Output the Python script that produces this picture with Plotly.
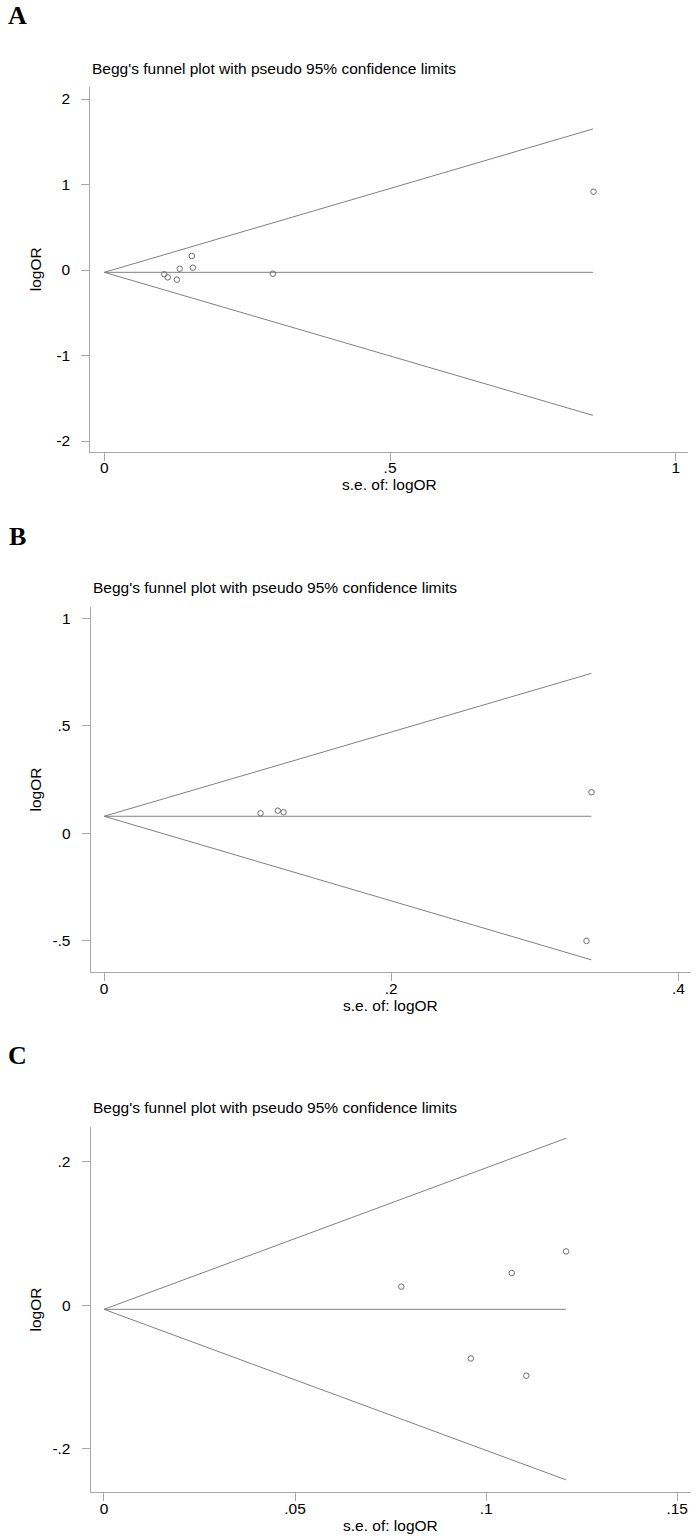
import plotly.graph_objects as go

W, H = 698, 1539

# panel A - study points (s.e. of logOR, logOR)
se_a = [0.105, 0.111, 0.127, 0.132, 0.153, 0.155, 0.295, 0.856]
lor_a = [-0.050, -0.086, -0.113, 0.015, 0.164, 0.027, -0.043, 0.916]
# funnel: pooled estimate, max s.e., upper / lower limits at max s.e.
funnel_a = [-0.027, 0.855, 1.65, -1.70]

# panel B
se_b = [0.109, 0.121, 0.125, 0.3395, 0.336]
lor_b = [0.093, 0.105, 0.098, 0.191, -0.501]
funnel_b = [0.079, 0.3394, 0.744, -0.589]

# panel C
se_c = [0.0778, 0.0960, 0.1067, 0.1105, 0.1209]
lor_c = [0.026, -0.074, 0.045, -0.098, 0.075]
funnel_c = [-0.0056, 0.1209, 0.2325, -0.243]

xtick_a = [0, 0.5, 1]
xtext_a = ["0", ".5", "1"]
ytick_a = [-2, -1, 0, 1, 2]
ytext_a = ["-2", "-1", "0", "1", "2"]
xtick_b = [0, 0.2, 0.4]
xtext_b = ["0", ".2", ".4"]
ytick_b = [-0.5, 0, 0.5, 1]
ytext_b = ["-.5", "0", ".5", "1"]
xtick_c = [0, 0.05, 0.1, 0.15]
xtext_c = ["0", ".05", ".1", ".15"]
ytick_c = [-0.2, 0, 0.2]
ytext_c = ["-.2", "0", ".2"]

panel_letters = ["A", "B", "C"]
title_text = "Begg's funnel plot with pseudo 95% confidence limits"
xlabel = "s.e. of: logOR"
ylabel = "logOR"

FONT = "Liberation Sans, Arial, sans-serif"
AXCOL = "#a8a8a8"
LINECOL = "#808080"


def px_x(p):
    return p / W


def px_y(p):
    return 1 - p / H


# plot boxes in pixels: left, right, top, bottom ; axis ranges
panels = [
    dict(box=(90.3, 688, 86.7, 451.7), xr=[-0.0245, 1.0213], yr=[-2.125, 2.144],
         se=se_a, lor=lor_a, fun=funnel_a, xt=(xtick_a, xtext_a), yt=(ytick_a, ytext_a),
         letter_y=15.5, title_y=69),
    dict(box=(90.6, 690.6, 606.7, 972.3), xr=[-0.0094, 0.4085], yr=[-0.647, 1.054],
         se=se_b, lor=lor_b, fun=funnel_b, xt=(xtick_b, xtext_b), yt=(ytick_b, ytext_b),
         letter_y=536, title_y=587.5),
    dict(box=(90.6, 690.6, 1126.7, 1492.3), xr=[-0.0035, 0.1535], yr=[-0.2603, 0.2486],
         se=se_c, lor=lor_c, fun=funnel_c, xt=(xtick_c, xtext_c), yt=(ytick_c, ytext_c),
         letter_y=1055, title_y=1107.5),
]

fig = go.Figure()
layout = dict(width=W, height=H, margin=dict(l=0, r=0, t=0, b=0),
              paper_bgcolor="white", plot_bgcolor="white", showlegend=False,
              font=dict(family=FONT, size=15.5, color="black"))
annotations = []

for i, p in enumerate(panels):
    n = "" if i == 0 else str(i + 1)
    xa, ya = "x" + n, "y" + n
    pooled, maxse, up, lo = p["fun"]
    # funnel limits and pooled line
    fig.add_trace(go.Scatter(x=[0, maxse, None, 0, maxse, None, 0, maxse],
                             y=[pooled, up, None, pooled, lo, None, pooled, pooled],
                             mode="lines", line=dict(color=LINECOL, width=1),
                             xaxis=xa, yaxis=ya, hoverinfo="skip"))
    fig.add_trace(go.Scatter(x=p["se"], y=p["lor"], mode="markers",
                             marker=dict(symbol="circle-open", size=5.5, color="#6e6e6e",
                                         line=dict(width=1)),
                             xaxis=xa, yaxis=ya))
    l, r, t, b = p["box"]
    common = dict(showline=True, linecolor=AXCOL, linewidth=1, showgrid=False, zeroline=False,
                  ticks="outside", ticklen=8, tickcolor=AXCOL, tickwidth=1, mirror=False,
                  tickfont=dict(family=FONT, size=15.5, color="black"))
    layout["xaxis" + n] = dict(common, domain=[px_x(l), px_x(r)], range=p["xr"],
                               anchor=ya, tickvals=p["xt"][0], ticktext=p["xt"][1],
                               ticklabelstandoff=-6)
    layout["yaxis" + n] = dict(common, domain=[px_y(b), px_y(t)], range=p["yr"],
                               anchor=xa, tickvals=p["yt"][0], ticktext=p["yt"][1],
                               ticklabelstandoff=8)
    annotations.append(dict(text="<b>" + panel_letters[i] + "</b>", xref="paper", yref="paper",
                            x=px_x(17.5), y=px_y(p["letter_y"]), showarrow=False,
                            xanchor="center", yanchor="middle",
                            font=dict(family="Liberation Serif, Times New Roman, serif", size=26)))
    annotations.append(dict(text=title_text, xref="paper", yref="paper",
                            x=px_x(l), y=px_y(p["title_y"]), showarrow=False,
                            xanchor="left", yanchor="middle", font=dict(size=15.5)))
    annotations.append(dict(text=xlabel, xref="paper", yref="paper",
                            x=px_x((l + r) / 2), y=px_y(b + 33), showarrow=False,
                            xanchor="center", yanchor="middle", font=dict(size=15.5)))
    annotations.append(dict(text=ylabel, xref="paper", yref="paper", textangle=-90,
                            x=px_x(35), y=px_y((t + b) / 2), showarrow=False,
                            xanchor="center", yanchor="middle", font=dict(size=15.5)))

layout["annotations"] = annotations
fig.update_layout(**layout)
# drop the page's default body margin so the figure sits at the window's corner
fig.write_html("out.html", config={"displayModeBar": False},
               post_script="document.body.style.margin='0px';")
